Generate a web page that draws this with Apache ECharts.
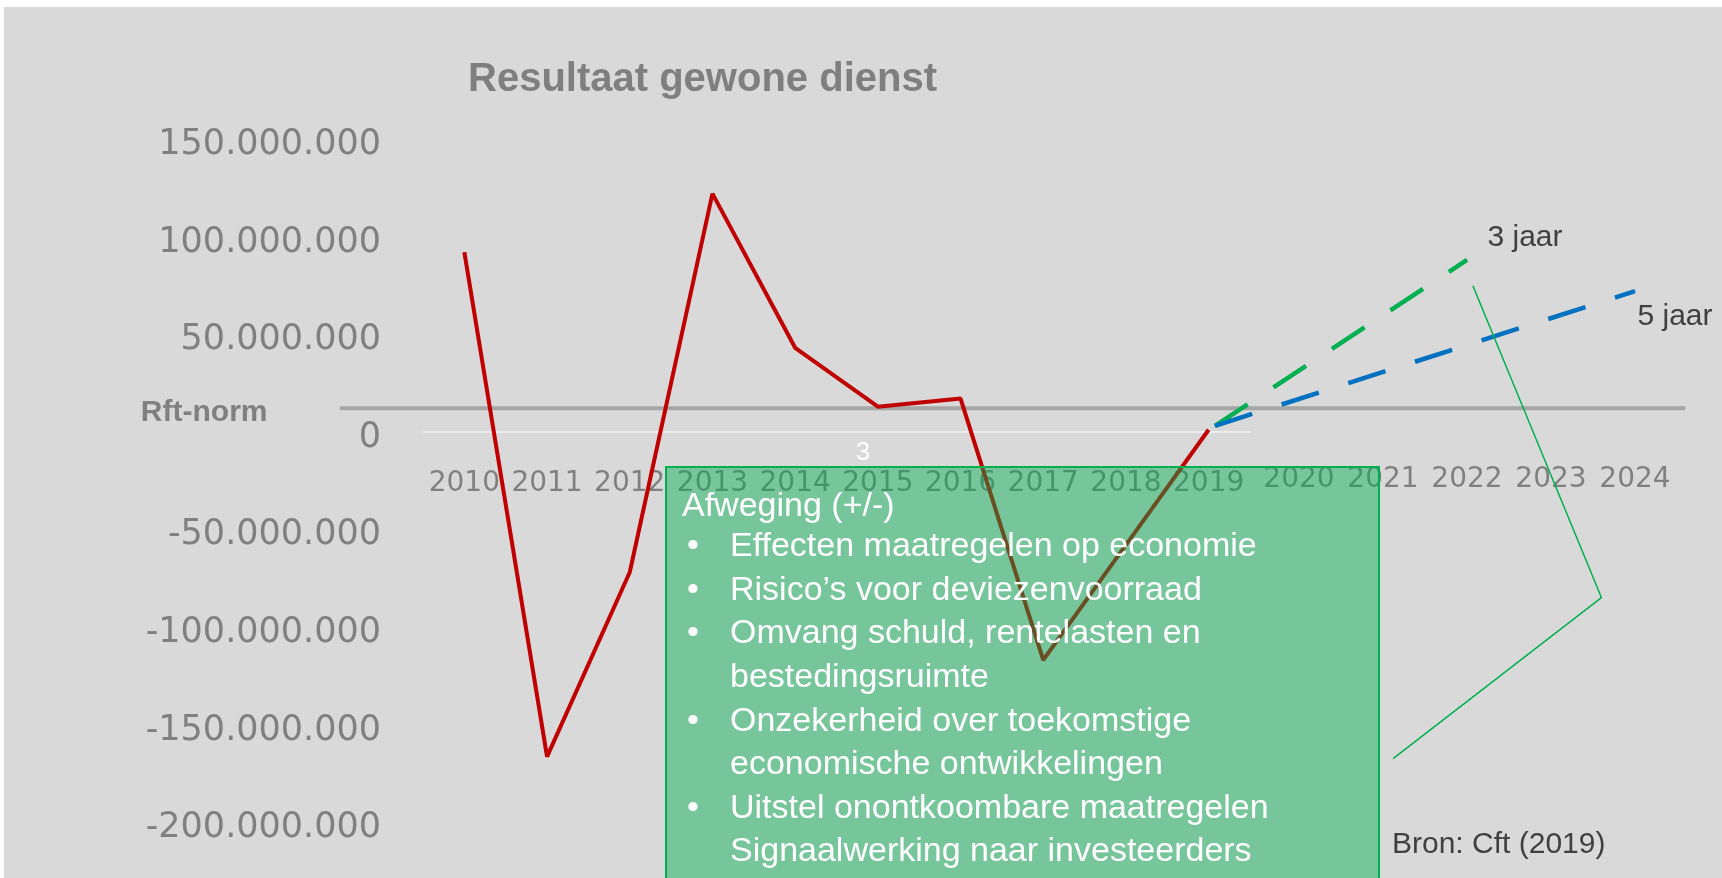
<!DOCTYPE html>
<html>
<head>
<meta charset="utf-8">
<title>Resultaat gewone dienst</title>
<script src="https://cdn.jsdelivr.net/npm/echarts@6/dist/echarts.min.js"></script>
<style>
  html, body { margin: 0; padding: 0; background: #fff; }
  #bg { position: absolute; left: 4px; top: 7px; right: 0; bottom: 0; background: #d9d9d9; }
  #chart { position: absolute; left: 0; top: 0; width: 1722px; height: 878px; }
</style>
</head>
<body>
<div id="bg"></div>
<div id="chart"></div>
<script>
// historische jaren en resultaat gewone dienst
const years = ['2010', '2011', '2012', '2013', '2014', '2015', '2016', '2017', '2018', '2019']
const resultaat = [92e6, -166.5e6, -72e6, 122e6, 43e6, 12.8e6, 17e6, -117e6, -58e6, 1e6]

// Rft-norm
const rftNorm = 12e6

// prognoses
const prognoseJaren = [2020, 2021, 2022, 2023, 2024]
const drieJaarX = [2019, 2022]
const drieJaarY = [3e6, 88e6]
const vijfJaarX = [2019, 2024]
const vijfJaarY = [3e6, 72e6]

// verbindingslijn naar het tekstvak
const calloutX = [2022.07, 2023.6, 2021.12]
const calloutY = [74.8e6, -85e6, -167.5e6]

// y-as
const yMin = -200e6
const yMax = 150e6
const yStep = 50e6

// tekstvak
const boxTitle = 'Afweging (+/-)'
const boxLines = [
  'Effecten maatregelen op economie',
  'Risico’s voor deviezenvoorraad',
  'Omvang schuld, rentelasten en',
  'bestedingsruimte',
  'Onzekerheid over toekomstige',
  'economische ontwikkelingen',
  'Uitstel onontkoombare maatregelen',
  'Signaalwerking naar investeerders'
]
const boxBullets = ['•', '•', '•', '', '•', '', '•', '']

const zip = (xs, ys) => xs.map((x, i) => [x, ys[i]])

function fmt(v) {
  const s = String(Math.abs(v)).replace(/\B(?=(\d{3})+(?!\d))/g, '.')
  return v < 0 ? '-' + s : s
}

const chart = echarts.init(document.getElementById('chart'))

const gridTop = 139
const gridBottom = 56
// afstand van onderkant plot tot de nul-lijn
const zeroOffset = -(878 - gridTop - gridBottom) * (0 - yMin) / (yMax - yMin)

// kleine onzichtbare punten zodat de labels zichtbaar blijven
const dot = { symbol: 'circle', symbolSize: 1, showSymbol: true }

chart.setOption({
  animation: false,
  textStyle: { fontFamily: 'Liberation Sans' },
  title: {
    text: 'Resultaat gewone dienst',
    left: 468,
    top: 60,
    padding: 0,
    textStyle: { fontSize: 40, fontWeight: 'bold', color: '#7f7f7f', fontFamily: 'Liberation Sans' }
  },
  grid: [
    { left: 423, right: 472, top: gridTop, bottom: gridBottom },
    { left: 1173, right: 45, top: gridTop, bottom: gridBottom },
    { left: 340, right: 37, top: gridTop, bottom: gridBottom }
  ],
  xAxis: [
    {
      type: 'category',
      gridIndex: 0,
      data: years,
      boundaryGap: true,
      position: 'bottom',
      offset: zeroOffset,
      axisLine: { show: true, onZero: false, lineStyle: { color: '#ececec', width: 2 } },
      axisTick: { show: false },
      splitLine: { show: false },
      axisLabel: { interval: 0, margin: 38, fontSize: 28, color: '#808080', fontFamily: 'DejaVu Sans' }
    },
    {
      type: 'value',
      gridIndex: 1,
      min: 2018.5,
      max: 2024.5,
      position: 'bottom',
      offset: zeroOffset,
      axisLine: { show: false, onZero: false },
      axisTick: { show: false },
      splitLine: { show: false },
      axisLabel: {
        customValues: prognoseJaren,
        formatter: v => String(v),
        margin: 34,
        fontSize: 28,
        color: '#808080',
        fontFamily: 'DejaVu Sans'
      }
    },
    { type: 'value', gridIndex: 2, min: 0, max: 1, show: false }
  ],
  yAxis: [
    {
      type: 'value',
      gridIndex: 0,
      min: yMin,
      max: yMax,
      interval: yStep,
      axisLine: { show: false },
      axisTick: { show: false },
      splitLine: { show: false },
      axisLabel: {
        margin: 42,
        fontSize: 35,
        color: '#808080',
        fontFamily: 'DejaVu Sans',
        verticalAlign: 'top',
        lineHeight: 12,
        formatter: fmt
      }
    },
    { type: 'value', gridIndex: 1, min: yMin, max: yMax, show: false },
    { type: 'value', gridIndex: 2, min: yMin, max: yMax, show: false }
  ],
  series: [
    {
      name: 'Rft-norm',
      type: 'line',
      xAxisIndex: 2,
      yAxisIndex: 2,
      ...dot,
      z: 2,
      itemStyle: { color: '#a6a6a6' },
      lineStyle: { color: '#a6a6a6', width: 4 },
      data: [
        {
          value: [0, rftNorm],
          label: {
            show: true,
            position: 'left',
            distance: 72,
            offset: [0, 4],
            formatter: 'Rft-norm',
            fontSize: 30,
            fontWeight: 'bold',
            color: '#808080',
            fontFamily: 'Liberation Sans'
          }
        },
        [1, rftNorm]
      ]
    },
    {
      name: 'Resultaat',
      type: 'line',
      xAxisIndex: 0,
      yAxisIndex: 0,
      symbol: 'none',
      z: 3,
      lineStyle: { color: '#c00000', width: 4 },
      data: resultaat
    },
    {
      name: '3 jaar',
      type: 'line',
      xAxisIndex: 1,
      yAxisIndex: 1,
      ...dot,
      z: 3,
      itemStyle: { color: '#00b050' },
      lineStyle: { color: '#00b050', width: 4.5, type: [39, 31], cap: 'butt' },
      data: zip(drieJaarX, drieJaarY).map((p, i, arr) => i === arr.length - 1
        ? { value: p, label: { show: true, position: 'right', distance: 0, offset: [20, -22], formatter: '3 jaar', fontSize: 30, color: '#404040' } }
        : p)
    },
    {
      name: '5 jaar',
      type: 'line',
      xAxisIndex: 1,
      yAxisIndex: 1,
      ...dot,
      z: 3,
      itemStyle: { color: '#0070c0' },
      lineStyle: { color: '#0070c0', width: 4.5, type: [39, 31], cap: 'butt' },
      data: zip(vijfJaarX, vijfJaarY).map((p, i, arr) => i === arr.length - 1
        ? { value: p, label: { show: true, position: 'right', distance: 0, offset: [2, 26], formatter: '5 jaar', fontSize: 30, color: '#404040' } }
        : p)
    },
    {
      name: 'callout',
      type: 'line',
      xAxisIndex: 1,
      yAxisIndex: 1,
      symbol: 'none',
      z: 3,
      lineStyle: { color: '#00b050', width: 1.5 },
      data: zip(calloutX, calloutY)
    }
  ],
  graphic: [
    {
      type: 'rect',
      z: 100,
      shape: { x: 666, y: 467, width: 713, height: 430 },
      style: { fill: 'rgba(0,176,80,0.45)', stroke: '#00b050', lineWidth: 2 }
    },
    {
      type: 'text',
      z: 101,
      x: 682,
      y: 507,
      style: { text: boxTitle, fill: '#fff', fontSize: 34, fontFamily: 'Liberation Sans', verticalAlign: 'middle' }
    },
    {
      type: 'text',
      z: 101,
      x: 687,
      y: 525,
      style: { text: boxBullets.join('\n'), fill: '#fff', fontSize: 34, lineHeight: 43.6, fontFamily: 'Liberation Sans', verticalAlign: 'top' }
    },
    {
      type: 'text',
      z: 101,
      x: 730,
      y: 525,
      style: { text: boxLines.join('\n'), fill: '#fff', fontSize: 34, lineHeight: 43.6, fontFamily: 'Liberation Sans', verticalAlign: 'top' }
    },
    {
      type: 'text',
      z: 101,
      x: 863,
      y: 453,
      style: { text: '3', fill: '#fff', fontSize: 26, fontFamily: 'Liberation Sans', align: 'center', verticalAlign: 'middle' }
    },
    {
      type: 'text',
      z: 101,
      x: 1392,
      y: 845,
      style: { text: 'Bron: Cft (2019)', fill: '#404040', fontSize: 30, fontFamily: 'Liberation Sans', verticalAlign: 'middle' }
    }
  ]
})
</script>
</body>
</html>
